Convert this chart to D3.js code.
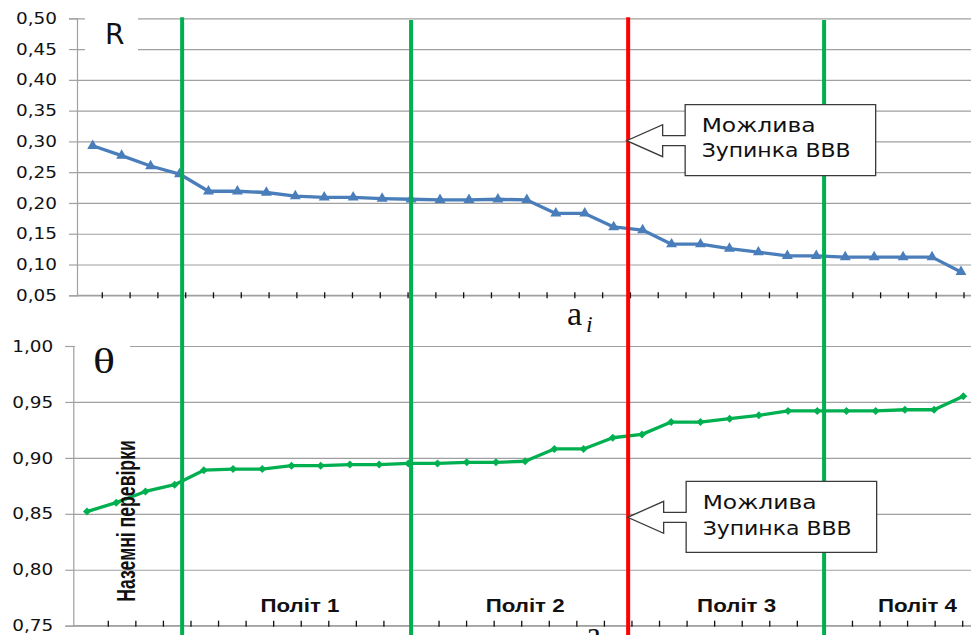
<!DOCTYPE html>
<html>
<head>
<meta charset="utf-8">
<script src="https://cdn.jsdelivr.net/npm/d3@7"></script>
<style>
  html, body { margin: 0; padding: 0; background: #fff; }
  svg { display: block; }
  .tick-label { font-family: "DejaVu Sans", sans-serif; font-size: 16px; fill: #111; }
</style>
</head>
<body>
<div id="chart"></div>
<script>
// step index a_i along the x axis
const steps = [1, 2, 3, 4, 5, 6, 7, 8, 9, 10, 11, 12, 13, 14, 15, 16,
  17, 18, 19, 20, 21, 22, 23, 24, 25, 26, 27, 28, 29, 30, 31];

const rValues = [0.293, 0.277, 0.260, 0.247, 0.219, 0.219, 0.217, 0.211, 0.209, 0.209,
  0.207, 0.206, 0.205, 0.205, 0.206, 0.205, 0.183, 0.183, 0.161, 0.156,
  0.133, 0.133, 0.126, 0.120, 0.114, 0.114, 0.112, 0.112, 0.112, 0.112, 0.088];

const thetaValues = [0.852, 0.860, 0.870, 0.876, 0.889, 0.890, 0.890, 0.893, 0.893, 0.894,
  0.894, 0.895, 0.895, 0.896, 0.896, 0.897, 0.908, 0.908, 0.918, 0.921,
  0.932, 0.932, 0.935, 0.938, 0.942, 0.942, 0.942, 0.942, 0.943, 0.943, 0.955];

const rTicks = [0.05, 0.10, 0.15, 0.20, 0.25, 0.30, 0.35, 0.40, 0.45, 0.50];
const thetaTicks = [0.75, 0.80, 0.85, 0.90, 0.95, 1.00];

// stage boundaries (in step units) and which of them is the stop point
const boundaries = [4.09, 12, 19.5, 26.27];
const boundaryColors = ['#00b050', '#00b050', '#ff0000', '#00b050'];

const stageNames = ['Політ 1', 'Політ 2', 'Політ 3', 'Політ 4'];
const stagePos = [8.29, 16.0, 23.24, 29.43];

const W = 971, H = 635;
const fmt = d => d.toFixed(2).replace('.', ',');

const svg = d3.select('#chart').append('svg')
  .attr('width', W).attr('height', H);

// ---- top panel: R ----
const pTop = { left: 77, top: 18.3, bottom: 295.3 };
const xTop = d3.scaleLinear().domain([1, 31]).range([92.7, 961]);
const yTop = d3.scaleLinear().domain([0.05, 0.5]).range([pTop.bottom, pTop.top]);
const tickTop = d3.scaleLinear().domain([0, 31]).range([102.3, 964]);

// ---- bottom panel: theta ----
const pBot = { left: 73.3, top: 346, bottom: 625.7 };
const xBot = d3.scaleLinear().domain([1, 31]).range([87, 963.3]);
const yBot = d3.scaleLinear().domain([0.75, 1.0]).range([pBot.bottom, pBot.top]);
const tickBot = d3.scaleLinear().domain([0, 31]).range([108.3, 962.7]);

function panel(p, y, ticks, xTicks, tickUp, tickDown) {
  const g = svg.append('g');
  // gridlines
  g.append('g')
    .attr('transform', `translate(${p.left},0)`)
    .call(d3.axisLeft(y).tickValues(ticks).tickSize(-(W - p.left)).tickFormat(''))
    .call(s => s.select('.domain').remove())
    .selectAll('line').attr('stroke', '#a0a0a0').attr('stroke-width', 1.2);

  // y axis
  const ya = g.append('g')
    .attr('transform', `translate(${p.left},0)`)
    .call(d3.axisLeft(y).tickValues(ticks).tickSize(8).tickPadding(12).tickFormat(fmt));
  ya.attr('font-family', null).attr('font-size', null);
  ya.select('.domain').attr('stroke', '#a0a0a0').attr('stroke-width', 1.2);
  ya.selectAll('line').attr('stroke', '#a0a0a0').attr('stroke-width', 1.2);
  ya.selectAll('text')
    .attr('class', 'tick-label')
    .attr('fill', null)
    .attr('textLength', 41).attr('lengthAdjust', 'spacingAndGlyphs');

  // x axis line + ticks
  const xa = g.append('g');
  xa.append('line')
    .attr('x1', p.left).attr('x2', W)
    .attr('y1', p.bottom).attr('y2', p.bottom)
    .attr('stroke', '#a0a0a0').attr('stroke-width', 1.2);
  xa.selectAll('line.xt')
    .data(d3.range(32))
    .join('line')
    .attr('class', 'xt')
    .attr('x1', d => xTicks(d)).attr('x2', d => xTicks(d))
    .attr('y1', p.bottom - tickUp).attr('y2', p.bottom + tickDown)
    .attr('stroke', '#111').attr('stroke-width', 1.3);
  return g;
}

panel(pTop, yTop, rTicks, tickTop, 3, 3);
panel(pBot, yBot, thetaTicks, tickBot, 5, 1);

// white label boxes over the gridlines
svg.append('rect').attr('x', 85).attr('y', 6).attr('width', 53).attr('height', 52).attr('fill', '#fff');
svg.append('rect').attr('x', 75).attr('y', 336).attr('width', 55).attr('height', 56).attr('fill', '#fff');

svg.append('text')
  .attr('x', 105).attr('y', 43.5)
  .attr('font-family', 'DejaVu Sans, sans-serif').attr('font-size', 28)
  .attr('fill', '#111')
  .text('R');

svg.append('text')
  .attr('x', 93).attr('y', 373)
  .attr('font-family', 'Liberation Serif, serif').attr('font-size', 35)
  .attr('fill', '#111')
  .attr('textLength', 22).attr('lengthAdjust', 'spacingAndGlyphs')
  .text('θ');

// ---- series R ----
const blue = '#4a7ebb';
svg.append('path')
  .datum(rValues)
  .attr('fill', 'none')
  .attr('stroke', blue)
  .attr('stroke-width', 3.3)
  .attr('stroke-linejoin', 'round')
  .attr('d', d3.line().x((d, i) => xTop(steps[i])).y(d => yTop(d)));

svg.selectAll('.tri')
  .data(rValues)
  .join('path')
  .attr('class', 'tri')
  .attr('transform', (d, i) => `translate(${xTop(steps[i])},${yTop(d)})`)
  .attr('d', d3.symbol(d3.symbolTriangle, 52))
  .attr('fill', blue);

// ---- series theta ----
const green = '#00b050';
svg.append('path')
  .datum(thetaValues)
  .attr('fill', 'none')
  .attr('stroke', green)
  .attr('stroke-width', 3.3)
  .attr('stroke-linejoin', 'round')
  .attr('d', d3.line().x((d, i) => xBot(steps[i])).y(d => yBot(d)));

svg.selectAll('.dia')
  .data(thetaValues)
  .join('path')
  .attr('class', 'dia')
  .attr('transform', (d, i) => `translate(${xBot(steps[i])},${yBot(d)}) rotate(45)`)
  .attr('d', d3.symbol(d3.symbolSquare, 32))
  .attr('fill', green);

// ---- stage boundaries ----
svg.selectAll('.stage')
  .data(boundaries)
  .join('line')
  .attr('class', 'stage')
  .attr('x1', d => xTop(d)).attr('x2', d => xTop(d))
  .attr('y1', (d, i) => i % 2 ? 20 : 17.3).attr('y2', H)
  .attr('stroke', (d, i) => boundaryColors[i])
  .attr('stroke-width', 4);

// ---- callouts ----
function callout(tipX, tipY, dTop, dBot) {
  const bx = tipX + 58.5, bw = 190.5, by = tipY - 36, bh = 71;
  const hx = tipX + 36;
  const p = d3.path();
  p.moveTo(bx, by);
  p.lineTo(bx + bw, by);
  p.lineTo(bx + bw, by + bh);
  p.lineTo(bx, by + bh);
  p.lineTo(bx, tipY + 5);
  p.lineTo(hx, tipY + 5);
  p.lineTo(hx, tipY + 16);
  p.lineTo(tipX, tipY);
  p.lineTo(hx, tipY - 16);
  p.lineTo(hx, tipY - 5);
  p.lineTo(bx, tipY - 5);
  p.closePath();
  svg.append('path')
    .attr('d', p.toString())
    .attr('fill', '#fff')
    .attr('stroke', '#3a3a3a')
    .attr('stroke-width', 1.3);
  const t = svg.append('g')
    .attr('font-family', 'DejaVu Sans, sans-serif')
    .attr('font-size', 19)
    .attr('fill', '#111');
  t.append('text').attr('x', bx + 16.5).attr('y', tipY + dTop)
    .attr('textLength', 114).attr('lengthAdjust', 'spacingAndGlyphs')
    .text('Можлива');
  t.append('text').attr('x', bx + 16.5).attr('y', tipY + dBot)
    .attr('textLength', 149).attr('lengthAdjust', 'spacingAndGlyphs')
    .text('Зупинка ВВВ');
}
callout(xTop(boundaries[2]) - 1.5, yTop(0.30) - 0.7, -9, 16.6);
callout(xTop(boundaries[2]) - 0.5, yBot(0.85) + 3.5, -8.3, 17.7);

// ---- stage names ----
svg.selectAll('.stage-name')
  .data(stageNames)
  .join('text')
  .attr('class', 'stage-name')
  .attr('x', (d, i) => xBot(stagePos[i]))
  .attr('y', 612)
  .attr('text-anchor', 'middle')
  .attr('font-family', 'Liberation Sans, Arial, sans-serif')
  .attr('font-weight', 'bold')
  .attr('font-size', 18.5)
  .attr('fill', '#111')
  .attr('textLength', 79).attr('lengthAdjust', 'spacingAndGlyphs')
  .text(d => d);

svg.append('text')
  .attr('transform', 'translate(135,601.7) rotate(-90)')
  .attr('font-family', 'Liberation Sans, Arial, sans-serif')
  .attr('font-weight', 'bold')
  .attr('font-size', 25)
  .attr('fill', '#111')
  .attr('textLength', 161.5).attr('lengthAdjust', 'spacingAndGlyphs')
  .text('Наземні перевірки');

// ---- x axis titles a_i (the lower one is cut by the page edge, as in the original) ----
function axisTitle(x, y) {
  const t = svg.append('text')
    .attr('x', x).attr('y', y)
    .attr('font-family', 'Liberation Serif, serif')
    .attr('font-size', 34)
    .attr('fill', '#111');
  t.append('tspan').text('a');
  t.append('tspan').attr('dx', 4).attr('dy', 7)
    .attr('font-size', 24).attr('font-style', 'italic').text('i');
}
axisTitle(567, 325);
axisTitle(586, 645);
</script>
</body>
</html>
